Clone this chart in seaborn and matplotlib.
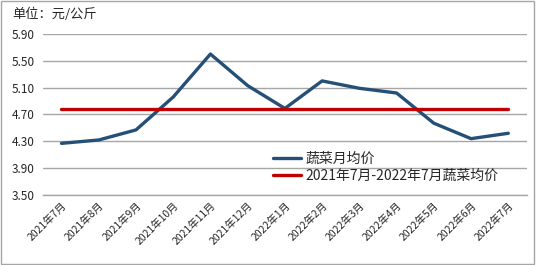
import matplotlib
matplotlib.use("Agg")
import matplotlib.pyplot as plt
import seaborn as sns
import pandas as pd
import numpy as np
from matplotlib.patches import Rectangle

sns.set_style("white")
plt.rcParams['font.family'] = ['Noto Sans CJK SC', 'DejaVu Sans']

months = ["2021年7月", "2021年8月", "2021年9月", "2021年10月", "2021年11月", "2021年12月",
          "2022年1月", "2022年2月", "2022年3月", "2022年4月", "2022年5月", "2022年6月", "2022年7月"]
monthly_price = [4.27, 4.32, 4.47, 4.96, 5.60, 5.13, 4.79, 5.20, 5.09, 5.02, 4.57, 4.34, 4.42]
avg_price = [4.78] * len(months)
yticks = [3.50, 3.90, 4.30, 4.70, 5.10, 5.50, 5.90]

df = pd.DataFrame({"idx": np.arange(len(months)), "month": months,
                   "monthly": monthly_price, "avg": avg_price})

fig = plt.figure(figsize=(5.36, 2.65), dpi=100)
ax = fig.add_axes([0.080, 0.264, 0.903, 0.608])

sns.lineplot(data=df, x="idx", y="monthly", ax=ax, color="#245077", linewidth=2.4,
             label="蔬菜月均价")
sns.lineplot(data=df, x="idx", y="avg", ax=ax, color="#C00000", linewidth=2.4,
             label="2021年7月-2022年7月蔬菜均价")

ax.set_xlim(-0.5, len(months) - 0.5)
ax.set_ylim(3.5, 5.9)
ax.set_yticks(yticks)
ax.set_yticklabels([f"{v:.2f}" for v in yticks], fontsize=8.5)
ax.yaxis.grid(True, color="#A6A6A6", linewidth=1)
ax.set_axisbelow(True)

ax.set_xticks(np.arange(len(months)))
ax.set_xticklabels(months, rotation=45, ha="right", rotation_mode="anchor", fontsize=7.5)
ax.tick_params(axis="x", which="major", length=0, pad=4)
ax.set_xticks(np.arange(-0.5, len(months)), minor=True)
ax.tick_params(axis="x", which="minor", length=4, color="#A6A6A6", width=1, direction="out")
ax.tick_params(axis="y", length=0, pad=6)
ax.set_xlabel("")
ax.set_ylabel("")

for s in ["top", "right", "left"]:
    ax.spines[s].set_visible(False)
ax.spines["bottom"].set_color("#A6A6A6")
ax.spines["bottom"].set_linewidth(1)

leg = ax.legend(loc="lower left", bbox_to_anchor=(0.465, 0.04), frameon=False,
                fontsize=10, handlelength=2.0, handletextpad=0.3, labelspacing=0.2,
                borderaxespad=0)

fig.text(12 / 536, 1 - 14 / 265, "单位：元/公斤", fontsize=9.5, va="center", ha="left")

fig.patches.append(Rectangle((0.002, 0.004), 0.995, 0.992, transform=fig.transFigure,
                             fill=False, edgecolor="#A6A6A6", linewidth=1))

fig.savefig("out.png", dpi=100)
